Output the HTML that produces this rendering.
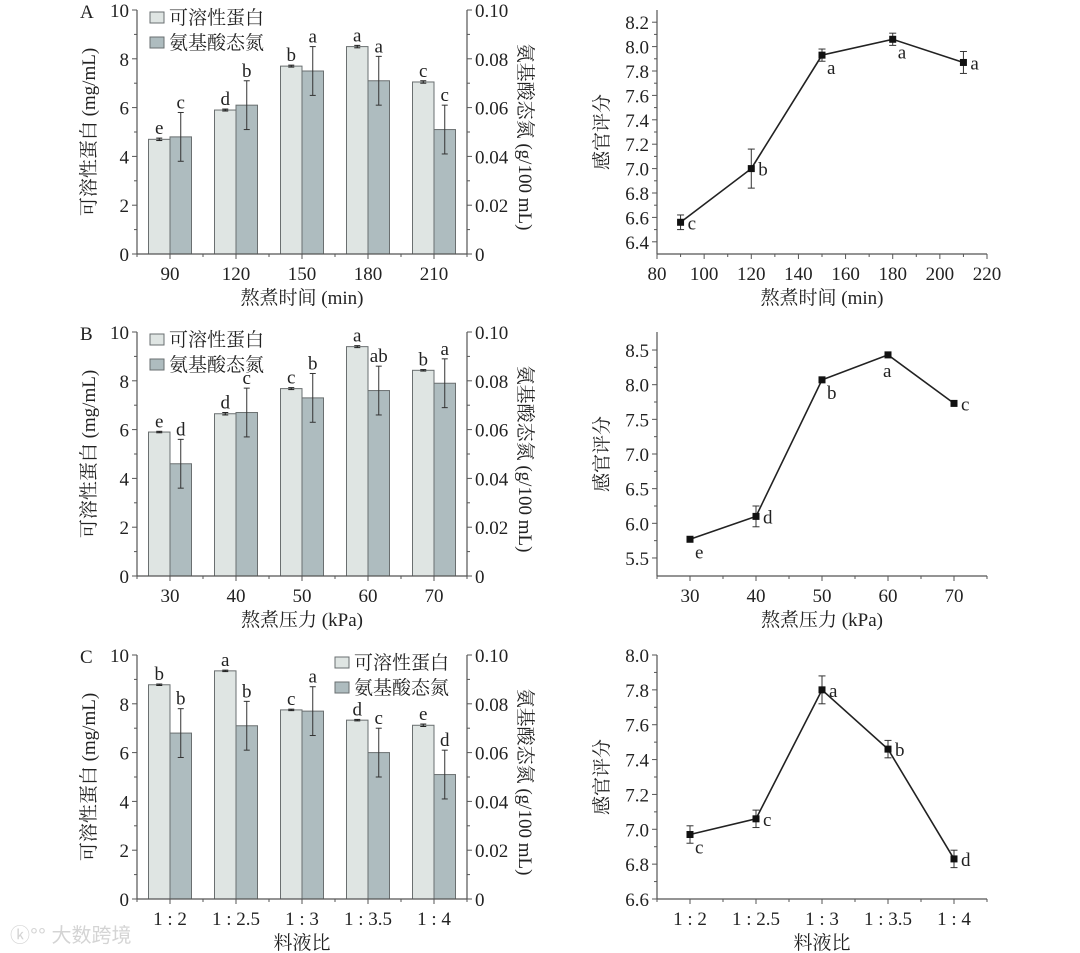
<!DOCTYPE html>
<html><head><meta charset="utf-8">
<style>
html,body{margin:0;padding:0;background:#fff;}
svg{display:block;font-family:"Liberation Serif","Noto Serif CJK SC","Noto Sans CJK SC",serif;}
</style></head>
<body>
<svg id="fig" width="1080" height="953" viewBox="0 0 1080 953" xmlns="http://www.w3.org/2000/svg">
<text x="10" y="942" font-size="20" fill="#d4d4d4" font-family="Liberation Sans, Noto Sans CJK SC, sans-serif">ⓚ°° 大数跨境</text>
</svg>
<script>
// ---- Bar chart data ----
const barCatsA = ["90","120","150","180","210"];
const proteinA = [4.7, 5.9, 7.7, 8.5, 7.05];
const proteinErrA = [0.05, 0.04, 0.04, 0.05, 0.05];
const aminoA = [0.048, 0.061, 0.075, 0.071, 0.051];
const aminoErrA = [0.010, 0.010, 0.010, 0.010, 0.010];
const proteinLetA = ["e","d","b","a","c"];
const aminoLetA = ["c","b","a","a","c"];

const barCatsB = ["30","40","50","60","70"];
const proteinB = [5.9, 6.65, 7.68, 9.4, 8.43];
const proteinErrB = [0.03, 0.05, 0.04, 0.04, 0.03];
const aminoB = [0.046, 0.067, 0.073, 0.076, 0.079];
const aminoErrB = [0.010, 0.010, 0.010, 0.010, 0.010];
const proteinLetB = ["e","d","c","a","b"];
const aminoLetB = ["d","c","b","ab","a"];

const barCatsC = ["1 : 2","1 : 2.5","1 : 3","1 : 3.5","1 : 4"];
const proteinC = [8.78, 9.35, 7.75, 7.33, 7.12];
const proteinErrC = [0.03, 0.03, 0.03, 0.03, 0.05];
const aminoC = [0.068, 0.071, 0.077, 0.060, 0.051];
const aminoErrC = [0.010, 0.010, 0.010, 0.010, 0.010];
const proteinLetC = ["b","a","c","d","e"];
const aminoLetC = ["b","b","a","c","d"];

// ---- Line chart data ----
const lineXA = [90, 120, 150, 180, 210];
const scoreA = [6.56, 7.0, 7.93, 8.06, 7.87];
const scoreErrA = [0.06, 0.16, 0.05, 0.05, 0.09];
const scoreLetA = ["c","b","a","a","a"];
const xTicksA = [80,100,120,140,160,180,200,220];
const yTicksA = [6.4,6.6,6.8,7.0,7.2,7.4,7.6,7.8,8.0,8.2];

const lineXB = [30, 40, 50, 60, 70];
const scoreB = [5.77, 6.1, 8.07, 8.43, 7.73];
const scoreErrB = [0.03, 0.15, 0.04, 0.04, 0.03];
const scoreLetB = ["e","d","b","a","c"];
const xTicksB = [30,40,50,60,70];
const yTicksB = [5.5,6.0,6.5,7.0,7.5,8.0,8.5];

const lineCatsC = ["1 : 2","1 : 2.5","1 : 3","1 : 3.5","1 : 4"];
const scoreC = [6.97, 7.06, 7.80, 7.46, 6.83];
const scoreErrC = [0.05, 0.05, 0.08, 0.05, 0.05];
const scoreLetC = ["c","c","a","b","d"];
const yTicksC = [6.6,6.8,7.0,7.2,7.4,7.6,7.8,8.0];

const NS = "http://www.w3.org/2000/svg";
const fig = document.getElementById("fig");
const FS = 19;
function mk(tag, attrs, parent, txt){
  const e = document.createElementNS(NS, tag);
  for (const k in attrs) e.setAttribute(k, attrs[k]);
  if (txt !== undefined) e.textContent = txt;
  (parent || fig).appendChild(e);
  return e;
}
const AX = "#555";

function barChart(o){
  const g = mk("g", {});
  
  
  const L = 137, R = 467, T = o.top, B = o.top + 244;
  const n = o.cats.length, step = (R - L) / n;
  const xc = i => L + step * (i + 0.5);
  const yl = v => B - (v / 10) * (B - T);
  const yr = v => B - (v / 0.1) * (B - T);
  const bw = 21.5;
  for (let i = 0; i < n; i++) {
    const x = xc(i);
    const r1 = mk("rect", {x: x - bw, y: yl(o.prot[i]), width: bw, height: B - yl(o.prot[i]), fill: "#dfe5e3", stroke: "#6a6f70", "stroke-width": 1}, g);
    
    
    const r2 = mk("rect", {x: x, y: yr(o.amino[i]), width: bw, height: B - yr(o.amino[i]), fill: "#aebcbf", stroke: "#6a6f70", "stroke-width": 1}, g);
    
    
    const px = x - bw / 2, ax = x + bw / 2;
    const pt = yl(o.prot[i] + o.protErr[i]), pb = yl(o.prot[i] - o.protErr[i]);
    mk("line", {x1: px, x2: px, y1: pt, y2: pb, stroke: "#222", "stroke-width": 1}, g);
    mk("line", {x1: px - 3, x2: px + 3, y1: pt, y2: pt, stroke: "#222"}, g);
    mk("line", {x1: px - 3, x2: px + 3, y1: pb, y2: pb, stroke: "#222"}, g);
    const at = yr(o.amino[i] + o.aminoErr[i]), ab = yr(o.amino[i] - o.aminoErr[i]);
    mk("line", {x1: ax, x2: ax, y1: at, y2: ab, stroke: "#333", "stroke-width": 1}, g);
    mk("line", {x1: ax - 3, x2: ax + 3, y1: at, y2: at, stroke: "#333"}, g);
    mk("line", {x1: ax - 3, x2: ax + 3, y1: ab, y2: ab, stroke: "#333"}, g);
    const t1 = mk("text", {x: px, y: pt - 4, "font-size": FS, "text-anchor": "middle", fill: "#222"}, g, o.pLet[i]);
    
    
    const t2 = mk("text", {x: ax, y: at - 4, "font-size": FS, "text-anchor": "middle", fill: "#222"}, g, o.aLet[i]);
    
    
    mk("line", {x1: x, x2: x, y1: B, y2: B + 5, stroke: AX}, g);
    mk("line", {x1: L + step * i, x2: L + step * i, y1: B, y2: B + 3, stroke: AX}, g);
    const xl = mk("text", {x: x, y: B + 26, "font-size": FS, "text-anchor": "middle", fill: "#222"}, g, o.cats[i]);
    
    
  }
  mk("line", {x1: R, x2: R, y1: B, y2: B + 3, stroke: AX}, g);
  mk("line", {x1: L, x2: R, y1: B, y2: B, stroke: AX, "stroke-width": 1.2}, g);
  mk("line", {x1: L, x2: L, y1: T, y2: B, stroke: AX, "stroke-width": 1.2}, g);
  mk("line", {x1: R, x2: R, y1: T, y2: B, stroke: AX, "stroke-width": 1.2}, g);
  for (let v = 0; v <= 10; v++) {
    const y = yl(v), major = v % 2 === 0;
    mk("line", {x1: L - (major ? 5 : 3), x2: L, y1: y, y2: y, stroke: AX}, g);
    mk("line", {x1: R, x2: R + (major ? 5 : 3), y1: y, y2: y, stroke: AX}, g);
    if (major) {
      const lt = mk("text", {x: L - 8, y: y + 7, "font-size": FS, "text-anchor": "end", fill: "#222"}, g, String(v));
      
      
      const rt = mk("text", {x: R + 8, y: y + 7, "font-size": FS, fill: "#222"}, g, v === 0 ? "0" : (v / 100).toFixed(2));
      
      
    }
  }
  const pl = mk("text", {x: 80, y: T + 8, "font-size": FS, fill: "#222"}, g, o.letter);
  
  
  const yt = mk("text", {x: 0, y: 0, "font-size": FS, "text-anchor": "middle", fill: "#222", transform: `translate(95 ${(T + B) / 2}) rotate(-90)`}, g, "可溶性蛋白 (mg/mL)");
  
  
  const yt2 = mk("text", {x: 0, y: 0, "font-size": FS, "text-anchor": "middle", fill: "#222", transform: `translate(519 ${(T + B) / 2 + 5}) rotate(90)`}, g, "氨基酸态氮 (g/100 mL)");
  
  
  const xt = mk("text", {x: 302, y: B + 50, "font-size": FS, "text-anchor": "middle", fill: "#222"}, g, o.xTitle);
  
  
  const lx = o.legX, ly = T + 5;
  const names = ["可溶性蛋白", "氨基酸态氮"], fills = ["#dfe5e3", "#aebcbf"];
  for (let k = 0; k < 2; k++) {
    const lg = mk("g", {}, g);
    
    
    mk("rect", {x: lx, y: ly + k * 25 - 3, width: 14, height: 11, fill: fills[k], stroke: "#6a6f70"}, lg);
    mk("text", {x: lx + 19, y: ly + k * 25 + 9, "font-size": FS, fill: "#222"}, lg, names[k]);
  }
}

function lineChart(o){
  const g = mk("g", {});
  
  
  const L = 657, R = 987, T = o.top, B = o.top + 244;
  const xs = v => L + (v - o.xMin) / (o.xMax - o.xMin) * (R - L);
  const ys = v => B - (v - o.yMin) / (o.yMax - o.yMin) * (B - T);
  mk("line", {x1: L, x2: R, y1: B, y2: B, stroke: AX, "stroke-width": 1.2}, g);
  mk("line", {x1: L, x2: L, y1: T, y2: B, stroke: AX, "stroke-width": 1.2}, g);
  for (let i = 0; i < o.yTicks.length; i++) {
    const v = o.yTicks[i], y = ys(v);
    mk("line", {x1: L - 5, x2: L, y1: y, y2: y, stroke: AX}, g);
    const t = mk("text", {x: L - 8, y: y + 7, "font-size": FS, "text-anchor": "end", fill: "#222"}, g, v.toFixed(1));
    
    
    if (i < o.yTicks.length - 1) {
      const ym = ys((v + o.yTicks[i + 1]) / 2);
      mk("line", {x1: L - 3, x2: L, y1: ym, y2: ym, stroke: AX}, g);
    }
  }
  for (let i = 0; i < o.xTickVals.length; i++) {
    const x = xs(o.xTickVals[i]);
    mk("line", {x1: x, x2: x, y1: B, y2: B + 5, stroke: AX}, g);
    const t = mk("text", {x: x, y: B + 26, "font-size": FS, "text-anchor": "middle", fill: "#222"}, g, o.xTickLabels[i]);
    
    
    if (i < o.xTickVals.length - 1) {
      const xm = xs((o.xTickVals[i] + o.xTickVals[i + 1]) / 2);
      mk("line", {x1: xm, x2: xm, y1: B, y2: B + 3, stroke: AX}, g);
    }
  }
  if (o.edgeMinor) {
    mk("line", {x1: L, x2: L, y1: B, y2: B + 3, stroke: AX}, g);
    mk("line", {x1: R, x2: R, y1: B, y2: B + 3, stroke: AX}, g);
  }
  const pts = o.xv.map((v, i) => xs(v) + "," + ys(o.yv[i])).join(" ");
  const pl = mk("polyline", {points: pts, fill: "none", stroke: "#222", "stroke-width": 1.6}, g);
  
  
  for (let i = 0; i < o.xv.length; i++) {
    const x = xs(o.xv[i]), y = ys(o.yv[i]);
    const t = ys(o.yv[i] + o.err[i]), b = ys(o.yv[i] - o.err[i]);
    mk("line", {x1: x, x2: x, y1: t, y2: b, stroke: "#333"}, g);
    mk("line", {x1: x - 3.5, x2: x + 3.5, y1: t, y2: t, stroke: "#333"}, g);
    mk("line", {x1: x - 3.5, x2: x + 3.5, y1: b, y2: b, stroke: "#333"}, g);
    const m = mk("rect", {x: x - 3.5, y: y - 3.5, width: 7, height: 7, fill: "#111"}, g);
    
    
    const p = o.pos[i];
    let lx = x + 6, ly = y + 6;
    if (p === "br") { lx = x + 5; ly = y + 19; }
    if (p === "b") { lx = x - 5; ly = y + 22; }
    if (p === "r") { lx = x + 7; ly = y + 7; }
    const lt = mk("text", {x: lx, y: ly, "font-size": FS, fill: "#222"}, g, o.lets[i]);
    
    
  }
  const yt = mk("text", {x: 0, y: 0, "font-size": FS, "text-anchor": "middle", fill: "#222", transform: `translate(608 ${(T + B) / 2}) rotate(-90)`}, g, "感官评分");
  
  
  const xt = mk("text", {x: 822, y: B + 50, "font-size": FS, "text-anchor": "middle", fill: "#222"}, g, o.xTitle);
  
  
}

barChart({name: "bar-chart-a", top: 10, cats: barCatsA, prot: proteinA, protErr: proteinErrA, amino: aminoA, aminoErr: aminoErrA, pLet: proteinLetA, aLet: aminoLetA, letter: "A", xTitle: "熬煮时间 (min)", legX: 150});
barChart({name: "bar-chart-b", top: 332, cats: barCatsB, prot: proteinB, protErr: proteinErrB, amino: aminoB, aminoErr: aminoErrB, pLet: proteinLetB, aLet: aminoLetB, letter: "B", xTitle: "熬煮压力 (kPa)", legX: 150});
barChart({name: "bar-chart-c", top: 655, cats: barCatsC, prot: proteinC, protErr: proteinErrC, amino: aminoC, aminoErr: aminoErrC, pLet: proteinLetC, aLet: aminoLetC, letter: "C", xTitle: "料液比", legX: 335});

lineChart({name: "line-chart-a", top: 10, xMin: 80, xMax: 220, yMin: 6.3, yMax: 8.3, yTicks: yTicksA, xTickVals: xTicksA, xTickLabels: xTicksA.map(String), xv: lineXA, yv: scoreA, err: scoreErrA, lets: scoreLetA, pos: ["r","r","br","br","r"], xTitle: "熬煮时间 (min)", edgeMinor: false});
lineChart({name: "line-chart-b", top: 332, xMin: 25, xMax: 75, yMin: 5.24, yMax: 8.76, yTicks: yTicksB, xTickVals: xTicksB, xTickLabels: xTicksB.map(String), xv: lineXB, yv: scoreB, err: scoreErrB, lets: scoreLetB, pos: ["br","r","br","b","r"], xTitle: "熬煮压力 (kPa)", edgeMinor: true});
lineChart({name: "line-chart-c", top: 655, xMin: -0.5, xMax: 4.5, yMin: 6.6, yMax: 8.0, yTicks: yTicksC, xTickVals: [0,1,2,3,4], xTickLabels: lineCatsC, xv: [0,1,2,3,4], yv: scoreC, err: scoreErrC, lets: scoreLetC, pos: ["br","r","r","r","r"], xTitle: "料液比", edgeMinor: true});
</script>
</body></html>
